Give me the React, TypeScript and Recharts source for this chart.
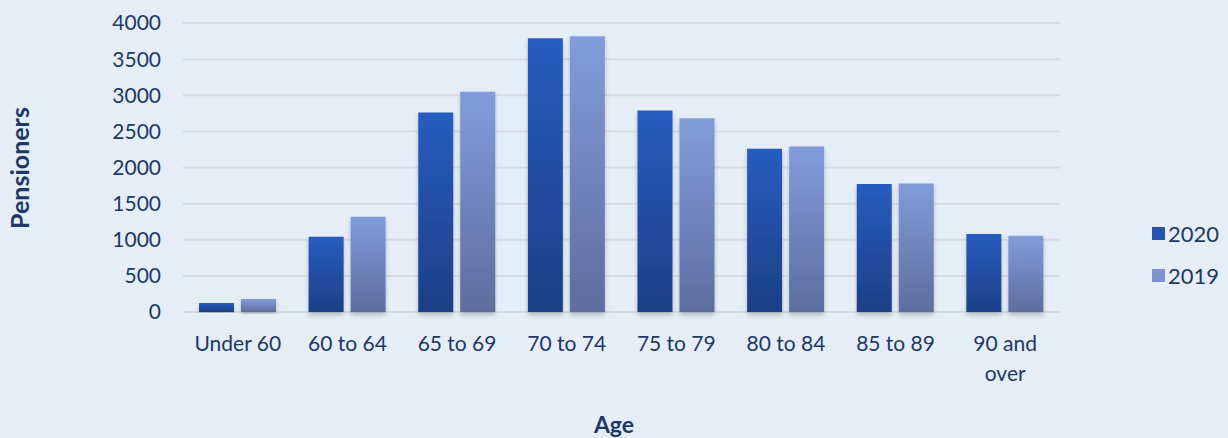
import React from 'react';
import { BarChart, Bar, XAxis, YAxis, CartesianGrid } from 'recharts';

// Pensioners by age band, 2020 vs 2019
const AGE_BANDS = ['Under 60', '60 to 64', '65 to 69', '70 to 74', '75 to 79', '80 to 84', '85 to 89', '90 and over'];
const PENSIONERS_2020 = [125, 1040, 2760, 3790, 2790, 2260, 1770, 1080];
const PENSIONERS_2019 = [180, 1320, 3050, 3815, 2680, 2290, 1780, 1055];
const Y_TICKS = [0, 500, 1000, 1500, 2000, 2500, 3000, 3500, 4000];

const TEXT = '#1f3864';
const FONT = 'Lato, "Open Sans", sans-serif';

const data = AGE_BANDS.map((band, i) => ({
  band,
  y2020: PENSIONERS_2020[i],
  y2019: PENSIONERS_2019[i],
}));

// wraps "90 and over" onto two lines like the original
function AgeTick(props: any) {
  const { x, y, payload } = props;
  const words: string[] = payload.value === '90 and over' ? ['90 and', 'over'] : [payload.value];
  return (
    <text x={x} y={y} textAnchor="middle" fill={TEXT} fontSize={21} fontFamily={FONT}>
      {words.map((w, i) => (
        <tspan key={i} x={x} dy={i === 0 ? 37 : 30}>{w}</tspan>
      ))}
    </text>
  );
}

const LEGEND = [
  { label: '2020', color: '#2653b0' },
  { label: '2019', color: '#7c93cf' },
];

export default function App() {
  return (
    <div style={{ position: 'absolute', left: 0, top: 0, width: 1228, height: 438, background: '#e5edf6' }}>
      <BarChart
        width={1228}
        height={438}
        data={data}
        margin={{ top: 23, right: 168, bottom: 0, left: 0 }}
        barCategoryGap={16}
        barGap={7}
      >
        <defs>
          <linearGradient id="grad2020" x1="0" y1="0" x2="0" y2="1">
            <stop offset="0%" stopColor="#285cc0" />
            <stop offset="100%" stopColor="#1d3f86" />
          </linearGradient>
          <linearGradient id="grad2019" x1="0" y1="0" x2="0" y2="1">
            <stop offset="0%" stopColor="#829cdb" />
            <stop offset="100%" stopColor="#5d6d9f" />
          </linearGradient>
          <filter id="barShadow" x="-20%" y="-5%" width="140%" height="115%">
            <feDropShadow dx="0" dy="3" stdDeviation="2" floodColor="#000" floodOpacity="0.22" />
          </filter>
        </defs>
        <CartesianGrid vertical={false} stroke="#d6dbe1" strokeWidth={2} />
        <XAxis
          dataKey="band"
          height={126}
          axisLine={false}
          tickLine={false}
          tickSize={0}
          interval={0}
          tick={<AgeTick />}
          label={{
            content: () => (
              <text x={614} y={433} textAnchor="middle" fill={TEXT} fontSize={23} fontWeight={700} fontFamily={FONT}>
                Age
              </text>
            ),
          }}
        />
        <YAxis
          width={183}
          domain={[0, 4000]}
          ticks={Y_TICKS}
          axisLine={false}
          tickLine={false}
          tickSize={0}
          tickMargin={22}
          tick={{ fill: TEXT, fontSize: 21, fontFamily: FONT }}
          label={{
            content: () => (
              <text
                x={29}
                y={168}
                transform="rotate(-90 29 168)"
                textAnchor="middle"
                fill={TEXT}
                fontSize={25}
                fontWeight={700}
                fontFamily={FONT}
              >
                Pensioners
              </text>
            ),
          }}
        />
        <Bar dataKey="y2020" name="2020" fill="url(#grad2020)" barSize={35} filter="url(#barShadow)" isAnimationActive={false} />
        <Bar dataKey="y2019" name="2019" fill="url(#grad2019)" barSize={35} filter="url(#barShadow)" isAnimationActive={false} />
      </BarChart>
      <div style={{ position: 'absolute', left: 1152, top: 212, fontFamily: FONT, color: TEXT, fontSize: 22 }}>
        {LEGEND.map((it) => (
          <div key={it.label} style={{ display: 'flex', alignItems: 'center', height: 42 }}>
            <span style={{ width: 13, height: 13, background: it.color, marginRight: 3, display: 'inline-block' }} />
            {it.label}
          </div>
        ))}
      </div>
    </div>
  );
}
